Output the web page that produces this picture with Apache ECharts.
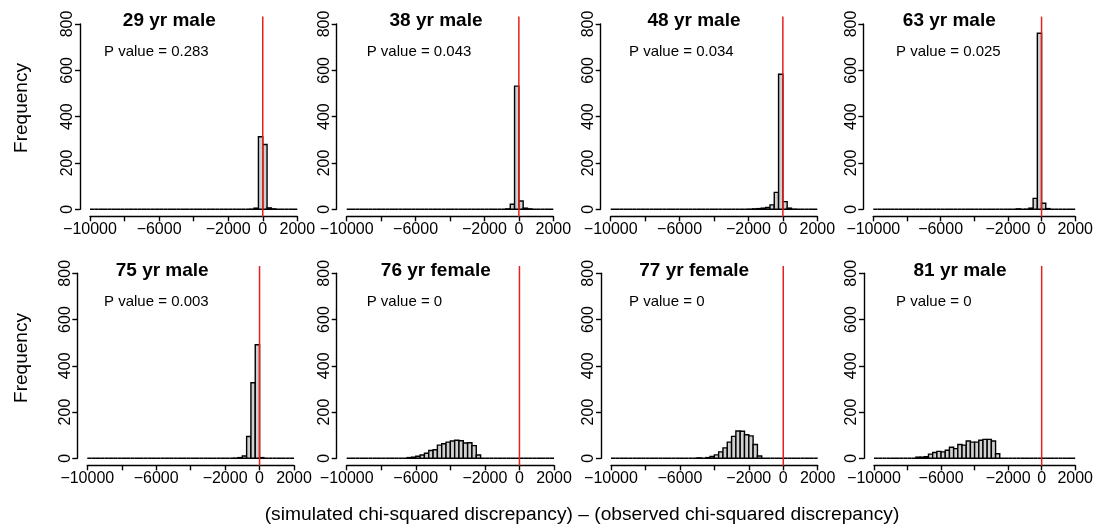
<!DOCTYPE html>
<html>
<head>
<meta charset="utf-8">
<style>
  html, body { margin: 0; padding: 0; background: #fff; }
  #chart { width: 1096px; height: 526px; }
</style>
<script src="https://cdn.jsdelivr.net/npm/echarts@6/dist/echarts.min.js"></script>
</head>
<body>
<div id="chart"></div>
<script>
// Histogram bins: 48 bins of width 250 from -10000 to 2000
const BIN_START = -10000;
const BIN_WIDTH = 250;

// Panel titles and p-values, row by row
const titles = ['29 yr male', '38 yr male', '48 yr male', '63 yr male',
                '75 yr male', '76 yr female', '77 yr female', '81 yr male'];
const pValues = ['0.283', '0.043', '0.034', '0.025', '0.003', '0', '0', '0'];

// Tick values
const xTicks = [-10000, -6000, -2000, 0, 2000];
const yTicks = [0, 200, 400, 600, 800];

// Frequencies per bin (index 0 = [-10000, -9750))
const counts29m = [0,0,0,0,0,0,0,0,0,0, 0,0,0,0,0,0,0,0,0,0, 0,0,0,0,0,0,0,0,0,0, 0,0,0,0,0,0,0,1,5,313, 280,6,2,0,0,0,0,0];
const counts38m = [0,0,0,0,0,0,0,0,0,0, 0,0,0,0,0,0,0,0,0,0, 0,0,0,0,0,0,0,0,0,0, 0,0,0,0,0,0,0,2,22,532, 36,5,2,0,0,0,0,0];
const counts48m = [0,0,0,0,0,0,0,0,0,0, 0,0,0,0,0,0,0,0,0,0, 0,0,0,0,0,0,0,0,0,0, 0,0,1,2,3,5,8,19,73,583, 33,5,1,0,0,0,0,0];
const counts63m = [0,0,0,0,0,0,0,0,0,0, 0,0,0,0,0,0,0,0,0,0, 0,0,0,0,0,0,0,0,0,0, 0,0,0,0,2,0,1,5,47,760, 26,3,0,0,0,0,0,0];
const counts75m = [0,0,0,0,0,0,0,0,0,0, 0,0,0,0,0,0,0,0,0,0, 0,0,0,0,0,0,0,0,0,0, 0,0,0,0,1,3,10,94,327,491, 3,0,0,0,0,0,0,0];
const counts76f = [0,0,0,0,0,0,0,0,0,0, 0,0,0,0,3,5,9,14,22,34, 37,57,63,70,75,78,76,66,67,55, 14,0,0,0,0,0,0,0,0,0, 0,0,0,0,0,0,0,0];
const counts77f = [0,0,0,0,0,0,0,0,0,0, 0,0,0,0,0,0,0,0,0,0, 2,0,3,8,15,28,45,70,95,118, 117,102,97,60,10,0,0,0,0,0, 0,0,0,0,0,0,0,0];
const counts81m = [0,0,0,0,0,0,0,0,0,0, 5,5,7,18,25,30,28,35,48,42, 60,57,75,70,70,78,82,82,75,20, 0,0,0,0,0,0,0,0,0,0, 0,0,0,0,0,0,0,0];

const panelCounts = [counts29m, counts38m, counts48m, counts63m,
                     counts75m, counts76f, counts77f, counts81m];

// Observed discrepancy reference (difference of zero)
const OBSERVED = 0;

// Plot-area placement of each panel (pixels)
const gridBoxes = [
  { left: 90.0,  top: 24.0,  width: 207.3, height: 185.3 },
  { left: 346.7, top: 24.0,  width: 206.6, height: 185.3 },
  { left: 610.7, top: 24.0,  width: 206.6, height: 185.3 },
  { left: 873.3, top: 24.0,  width: 207.7, height: 185.3 },
  { left: 87.3,  top: 273.3, width: 206.7, height: 185.0 },
  { left: 346.7, top: 273.3, width: 207.3, height: 185.0 },
  { left: 611.0, top: 273.3, width: 206.7, height: 185.0 },
  { left: 874.0, top: 273.3, width: 207.0, height: 185.0 }
];
const titleCenters = [[169.3, 21], [436, 21], [694, 21], [949.3, 21],
                      [162.2, 271], [435.8, 271], [694.2, 271], [960, 271]];
const pLefts = [[104, 52], [366.7, 52], [629, 52], [896, 52],
                [104, 302], [366.7, 302], [629, 302], [896, 302]];

const FONT = "'Liberation Sans', Arial, Helvetica, sans-serif";
const BAR_FILL = '#d0d0d0';
const LINE_W = 1.4;

const chart = echarts.init(document.getElementById('chart'), null, { renderer: 'canvas' });

function fmtTick(v) {
  return String(v).replace('-', '\u2212');
}

const grids = [], xAxes = [], yAxes = [], series = [], graphics = [];

panelCounts.forEach(function (counts, i) {
  grids.push(Object.assign({ containLabel: false }, gridBoxes[i]));
  xAxes.push({
    type: 'value', gridIndex: i,
    min: xTicks[0], max: xTicks[xTicks.length - 1], interval: 2000,
    offset: 7,
    axisLine: { show: true, onZero: false, lineStyle: { color: '#000', width: LINE_W } },
    axisTick: { show: true, length: 5, lineStyle: { color: '#000', width: LINE_W } },
    splitLine: { show: false },
    axisLabel: {
      show: true, color: '#000', fontSize: 16, fontFamily: FONT, margin: 5,
      showMinLabel: true, showMaxLabel: true,
      formatter: function (v) { return xTicks.indexOf(v) >= 0 ? fmtTick(v) : ''; }
    }
  });
  yAxes.push({
    type: 'value', gridIndex: i,
    min: yTicks[0], max: yTicks[yTicks.length - 1], interval: 200,
    offset: 10,
    axisLine: { show: true, onZero: false, lineStyle: { color: '#000', width: LINE_W } },
    axisTick: { show: true, length: 5, lineStyle: { color: '#000', width: LINE_W } },
    splitLine: { show: false },
    axisLabel: { show: true, color: '#000', fontSize: 16, fontFamily: FONT, margin: 4, rotate: 90 }
  });

  const binData = counts.map(function (c, k) {
    return [BIN_START + k * BIN_WIDTH, BIN_START + (k + 1) * BIN_WIDTH, c];
  });
  series.push({
    type: 'custom', xAxisIndex: i, yAxisIndex: i,
    data: binData,
    encode: { x: [0, 1], y: 2 },
    silent: true,
    renderItem: function (params, api) {
      const top = api.coord([api.value(0), api.value(2)]);
      const bottom = api.coord([api.value(1), 0]);
      return {
        type: 'rect',
        shape: { x: top[0], y: top[1], width: bottom[0] - top[0], height: bottom[1] - top[1] },
        style: { fill: BAR_FILL, stroke: '#000', lineWidth: 1.4 }
      };
    }
  });
  // red reference line across the full plotting region
  series.push({
    type: 'line', xAxisIndex: i, yAxisIndex: i,
    data: [[OBSERVED, -32], [OBSERVED, 832]],
    clip: false, symbol: 'none', silent: true, animation: false,
    lineStyle: { color: '#e81f1f', width: 1.5 }, z: 5
  });

  graphics.push({
    type: 'text', x: titleCenters[i][0], y: titleCenters[i][1],
    style: { text: titles[i], fill: '#000', font: 'bold 19px ' + FONT, textAlign: 'center', textVerticalAlign: 'middle' }
  });
  graphics.push({
    type: 'text', x: pLefts[i][0], y: pLefts[i][1],
    style: { text: 'P value = ' + pValues[i], fill: '#000', font: '15px ' + FONT, textAlign: 'left', textVerticalAlign: 'middle' }
  });
});

// axis titles
[108, 358].forEach(function (yc) {
  graphics.push({
    type: 'text', x: 22, y: yc, rotation: Math.PI / 2,
    style: { text: 'Frequency', fill: '#000', font: '19px ' + FONT, textAlign: 'center', textVerticalAlign: 'middle' }
  });
});
graphics.push({
  type: 'text', x: 582, y: 515,
  style: { text: '(simulated chi-squared discrepancy) \u2013 (observed chi-squared discrepancy)', fill: '#000', font: '19.2px ' + FONT, textAlign: 'center', textVerticalAlign: 'middle' }
});

chart.setOption({
  animation: false,
  backgroundColor: '#ffffff',
  grid: grids,
  xAxis: xAxes,
  yAxis: yAxes,
  series: series,
  graphic: graphics
});
</script>
</body>
</html>
